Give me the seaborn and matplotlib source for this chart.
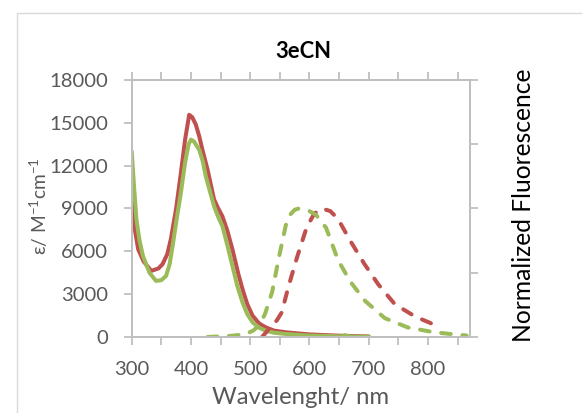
import matplotlib
matplotlib.use("Agg")
import matplotlib.pyplot as plt
import matplotlib.ticker as mticker
from matplotlib.patches import Rectangle
import seaborn as sns

# ---------------- data ----------------
abs_red_nm = [300, 305, 311, 320, 333, 345, 352, 360, 366, 375, 383, 390, 397, 402, 408,
              414, 420, 428, 439, 446, 453, 461, 470, 480, 487, 495, 504, 515, 526, 540,
              560, 600, 650, 700]
abs_red_eps = [9630, 7600, 6140, 5300, 4630, 4800, 5100, 5800, 6840, 9000, 11490, 13800,
               15560, 15400, 14900, 14050, 13000, 11720, 9630, 9000, 8460, 7500, 6140, 4400,
               3350, 2300, 1490, 950, 680, 450, 330, 180, 90, 40]

abs_green_nm = [300, 304, 308, 313, 319, 330, 341, 350, 358, 364, 369, 376, 383, 390, 396,
                400, 405, 414, 420, 425, 432, 439, 446, 453, 461, 470, 478, 487, 495, 504,
                515, 526, 540, 560, 600, 640, 655, 660, 666, 700]
abs_green_eps = [13000, 10500, 8230, 6800, 5670, 4500, 3930, 3980, 4280, 5100, 6370, 8300,
                 10100, 12200, 13500, 13820, 13700, 13100, 12300, 11250, 10200, 9160, 8400,
                 7770, 6500, 4980, 3600, 2420, 1600, 1030, 650, 440, 300, 210, 100, 60, 40,
                 130, 40, 20]

fl_red_nm = [520, 534, 545, 553, 565, 579, 595, 608, 621, 635, 648, 668, 692, 716, 744,
             778, 812, 822]
fl_red_val = [0.0, 0.075, 0.13, 0.19, 0.40, 0.62, 0.85, 0.96, 1.0, 0.98, 0.92, 0.755,
              0.573, 0.41, 0.255, 0.16, 0.093, 0.08]

fl_green_nm = [428, 450, 470, 492, 505, 515, 525, 537, 548, 560, 567, 575, 582, 592, 600,
               611, 628, 648, 669, 694, 727, 766, 810, 853, 865]
fl_green_val = [0.0, 0.005, 0.01, 0.022, 0.05, 0.09, 0.18, 0.35, 0.61, 0.87, 0.95, 0.99,
                1.0, 0.99, 0.98, 0.95, 0.85, 0.6, 0.43, 0.28, 0.147, 0.074, 0.037, 0.016,
                0.012]

title = "3eCN"
xlabel = "Wavelenght/ nm"
ylabel = r"ε/ M$^{\mathregular{-1}}$cm$^{\mathregular{-1}}$"
ylabel_right = "Normalized Fluorescence"
yticks = [0, 3000, 6000, 9000, 12000, 15000, 18000]
xticks = [300, 400, 500, 600, 700, 800]

RED = "#C0504D"
GREEN = "#9BBB59"
GRAY_TXT = "#595959"
AX_GRAY = "#BFBFBF"

# ---------------- style ----------------
sns.set_style("white")
FONT = ["Lato", "DejaVu Sans"]
plt.rcParams["font.family"] = FONT
plt.rcParams["mathtext.fontset"] = "custom"
plt.rcParams["mathtext.rm"] = "Lato"
plt.rcParams["mathtext.it"] = "Lato:italic"
plt.rcParams["mathtext.bf"] = "Lato:bold"

W, H = 582, 413
fig = plt.figure(figsize=(W / 100, H / 100), dpi=100)
fig.patch.set_facecolor("white")


def fit_size(text, target_px, base=14, **kw):
    """font size (pt) so that the text is target_px wide at dpi 100"""
    t = fig.text(0, 0, text, fontsize=base, **kw)
    fig.canvas.draw()
    w = t.get_window_extent().width
    t.remove()
    return base * target_px / w


tick_fs = fit_size("18000", 59)
title_fs = fit_size(title, 56, fontweight="bold")
xlab_fs = fit_size(xlabel, 178)
rlab_fs = fit_size(ylabel_right, 275)
ylab_fs = tick_fs * 0.95

# chart-area border (Excel style)
fig.patches.append(Rectangle((17.3 / W, -0.1), 1.2, 1 - 12.7 / H + 0.1,
                             transform=fig.transFigure, fill=False,
                             edgecolor="#D9D9D9", lw=1.0))

left, right, top, bottom = 131.7, 469.5, 80, 337
ax = fig.add_axes([left / W, 1 - bottom / H, (right - left) / W, (bottom - top) / H])
ax2 = ax.twinx()

lw = 2.9
sns.lineplot(x=abs_red_nm, y=abs_red_eps, ax=ax, color=RED, lw=lw, sort=False,
             solid_capstyle="round")
sns.lineplot(x=abs_green_nm, y=abs_green_eps, ax=ax, color=GREEN, lw=lw, sort=False,
             solid_capstyle="round")
sns.lineplot(x=fl_red_nm, y=fl_red_val, ax=ax2, color=RED, lw=lw, sort=False)
sns.lineplot(x=fl_green_nm, y=fl_green_val, ax=ax2, color=GREEN, lw=lw, sort=False)
for line in ax2.get_lines():
    line.set_dashes((2.4, 2.9))
    line.set_dash_capstyle("round")

ax.set_xlim(300, 870)
ax.set_ylim(0, 18000)
ax2.set_ylim(0, 2)

ax.set_xticks(xticks)
ax.xaxis.set_minor_locator(mticker.FixedLocator([350, 450, 550, 650, 750, 850]))
ax.set_yticks(yticks)
ax2.set_yticks([0, 0.5, 1, 1.5, 2])
ax2.set_yticklabels([])

for a in (ax, ax2):
    for s in a.spines.values():
        s.set_color(AX_GRAY)
        s.set_linewidth(1.3)
        s.set_visible(True)
    a.set_xlabel("")
    a.set_ylabel("")

ax.tick_params(axis="both", which="both", direction="out", length=6, width=1.3,
               color=AX_GRAY, labelcolor=GRAY_TXT, labelsize=tick_fs)
ax.tick_params(axis="x", which="both", top=True, bottom=True, pad=11)
ax.tick_params(axis="y", left=True, right=False, pad=11)
ax2.tick_params(axis="y", right=True, left=False, direction="out", length=6, width=1.3,
                color=AX_GRAY)

# texts
fig.text(303 / W, 1 - 58.3 / H, title, ha="center", va="baseline", fontsize=title_fs,
         fontweight="bold", color="black")
fig.text(301 / W, 1 - 404 / H, xlabel, ha="center", va="baseline", fontsize=xlab_fs,
         color=GRAY_TXT)
fig.text(46.5 / W, 1 - 206 / H, ylabel, ha="center", va="baseline", rotation=90,
         rotation_mode="anchor", fontsize=ylab_fs, color=GRAY_TXT)
fig.text(531 / W, 1 - 205.5 / H, ylabel_right, ha="center", va="baseline", rotation=90,
         rotation_mode="anchor", fontsize=rlab_fs, color="black")

fig.savefig("out.png", dpi=100)
